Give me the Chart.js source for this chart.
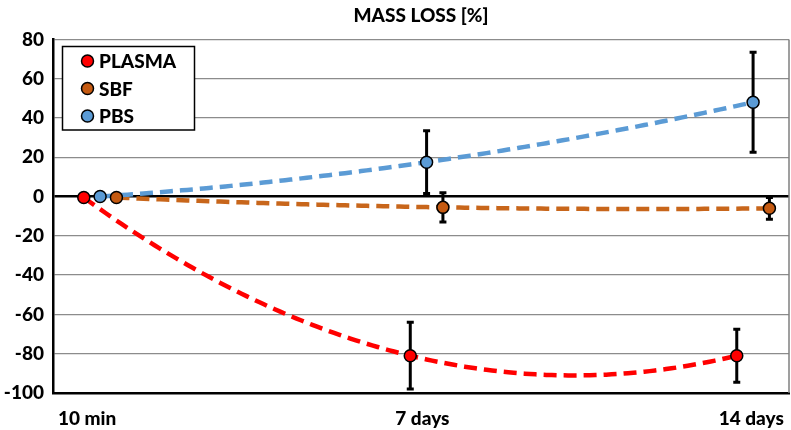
<!DOCTYPE html>
<html>
<head>
<meta charset="utf-8">
<title>Mass loss</title>
<script src="https://cdn.jsdelivr.net/npm/chart.js@4.4.0/dist/chart.umd.min.js"></script>
<style>
  html, body { margin: 0; padding: 0; background: #fff; }
  #wrap { width: 791px; height: 430px; }
</style>
</head>
<body>
<div id="wrap"><canvas id="massLossChart"></canvas></div>
<script>
// sampling times in days, each medium nudged sideways so markers don't overlap
const plasmaDays = [0, 7, 14];
const sbfDays = [0.7, 7.7, 14.7];
const pbsDays = [0.35, 7.35, 14.35];

// mass loss [%]
const plasmaLoss = [-0.5, -81, -81];
const sbfLoss = [-0.5, -5.5, -6];
const pbsLoss = [0, 17.5, 48];

// standard deviations
const plasmaErr = [0, 17, 13.5];
const sbfErr = [0, 7.5, 5.5];
const pbsErr = [0, 16, 25.5];

// x axis labels
const timeTicks = [0.07, 7.26, 14.31];
const timeLabels = ['10 min', '7 days', '14 days'];

const yTicks = [80, 60, 40, 20, 0, -20, -40, -60, -80, -100];

const FONT = 'Lato, "Open Sans", sans-serif';
Chart.defaults.font.family = FONT;
Chart.defaults.font.weight = '900';
Chart.defaults.color = '#000';

function toPoints(days, loss, err) {
    return days.map((d, i) => ({ x: d, y: loss[i], err: err[i] }));
}

// least squares fit y = a*x^2 + b*x + c (same as a 2nd order trendline)
function quadFit(xs, ys) {
    let s = [0, 0, 0, 0, 0], t = [0, 0, 0];
    xs.forEach((x, i) => {
        for (let k = 0; k < 5; k++) s[k] += Math.pow(x, k);
        for (let k = 0; k < 3; k++) t[k] += ys[i] * Math.pow(x, k);
    });
    const m = [[s[4], s[3], s[2]], [s[3], s[2], s[1]], [s[2], s[1], s[0]]];
    const det = mm => mm[0][0] * (mm[1][1] * mm[2][2] - mm[1][2] * mm[2][1])
        - mm[0][1] * (mm[1][0] * mm[2][2] - mm[1][2] * mm[2][0])
        + mm[0][2] * (mm[1][0] * mm[2][1] - mm[1][1] * mm[2][0]);
    const rhs = [t[2], t[1], t[0]];
    const d = det(m);
    return [0, 1, 2].map(col => det(m.map((row, r) => row.map((v, c) => c === col ? rhs[r] : v))) / d);
}

// trendlines, error bars and the plot frame go under the markers
const trendPlugin = {
    id: 'trendPlugin',
    beforeDatasetsDraw(chart) {
        const { ctx, chartArea: area, scales: { x, y } } = chart;
        ctx.save();

        // right edge of the frame
        ctx.strokeStyle = '#7f7f7f';
        ctx.lineWidth = 1.5;
        ctx.beginPath();
        ctx.moveTo(area.right, area.top);
        ctx.lineTo(area.right, area.bottom);
        ctx.stroke();

        chart.data.datasets.forEach(ds => {
            const xs = ds.data.map(p => p.x);
            const ys = ds.data.map(p => p.y);
            const [a, b, c] = quadFit(xs, ys);
            const x0 = xs[0], x1 = xs[xs.length - 1];
            ctx.beginPath();
            for (let i = 0; i <= 120; i++) {
                const xv = x0 + (x1 - x0) * i / 120;
                const px = x.getPixelForValue(xv);
                const py = y.getPixelForValue(a * xv * xv + b * xv + c);
                if (i === 0) ctx.moveTo(px, py); else ctx.lineTo(px, py);
            }
            ctx.setLineDash([13, 7]);
            ctx.lineWidth = 4.5;
            ctx.strokeStyle = ds.trendColor;
            ctx.stroke();
        });

        ctx.setLineDash([]);
        ctx.strokeStyle = '#000';
        chart.data.datasets.forEach(ds => {
            ds.data.forEach(p => {
                if (!p.err) return;
                const px = x.getPixelForValue(p.x);
                const top = y.getPixelForValue(p.y + p.err);
                const bot = y.getPixelForValue(p.y - p.err);
                ctx.lineWidth = 3;
                ctx.beginPath();
                ctx.moveTo(px, top);
                ctx.lineTo(px, bot);
                ctx.moveTo(px - 3.5, top);
                ctx.lineTo(px + 3.5, top);
                ctx.moveTo(px - 3.5, bot);
                ctx.lineTo(px + 3.5, bot);
                ctx.stroke();
            });
        });
        ctx.restore();
    }
};

// boxed legend in the top left corner of the plot
const boxLegend = {
    id: 'boxLegend',
    afterDraw(chart) {
        const { ctx } = chart;
        ctx.save();
        ctx.fillStyle = '#fff';
        ctx.fillRect(62.5, 46.5, 132, 83.5);
        ctx.strokeStyle = '#000';
        ctx.lineWidth = 1.5;
        ctx.strokeRect(62.5, 46.5, 132, 83.5);
        ctx.font = '900 19px ' + FONT;
        ctx.textBaseline = 'middle';
        chart.data.datasets.forEach((ds, i) => {
            const cy = 61 + i * 27.5;
            ctx.beginPath();
            ctx.arc(87.5, cy, 6, 0, Math.PI * 2);
            ctx.fillStyle = ds.backgroundColor;
            ctx.fill();
            ctx.lineWidth = 1.5;
            ctx.strokeStyle = '#000';
            ctx.stroke();
            ctx.fillStyle = '#000';
            ctx.fillText(ds.label, 99, cy + 1);
        });
        ctx.restore();
    }
};

const ctx = document.getElementById('massLossChart').getContext('2d');
new Chart(ctx, {
    type: 'scatter',
    data: {
        datasets: [
            {
                label: 'PLASMA',
                data: toPoints(plasmaDays, plasmaLoss, plasmaErr),
                backgroundColor: '#ff0000',
                trendColor: '#ff0000'
            },
            {
                label: 'SBF',
                data: toPoints(sbfDays, sbfLoss, sbfErr),
                backgroundColor: '#c55a11',
                trendColor: '#c8661b'
            },
            {
                label: 'PBS',
                data: toPoints(pbsDays, pbsLoss, pbsErr),
                backgroundColor: '#5b9bd5',
                trendColor: '#5b9bd5'
            }
        ].map(ds => Object.assign(ds, {
            borderColor: '#000',
            borderWidth: 1.5,
            pointRadius: 6,
            pointHoverRadius: 6,
            showLine: false
        }))
    },
    options: {
        responsive: true,
        maintainAspectRatio: false,
        animation: false,
        layout: {
            autoPadding: false,
            padding: { left: 0, right: 2, top: 0, bottom: 0 }
        },
        scales: {
            x: {
                type: 'linear',
                min: -0.66,
                max: 15.12,
                afterBuildTicks: scale => {
                    scale.ticks = timeTicks.map(v => ({ value: v }));
                },
                afterFit: scale => {
                    scale.height = 37;
                    scale.paddingLeft = 0;
                    scale.paddingRight = 0;
                },
                ticks: {
                    autoSkip: false,
                    maxRotation: 0,
                    padding: 14,
                    font: { size: 19, weight: '900' },
                    callback: (v, i) => timeLabels[i]
                },
                grid: { display: false, drawTicks: false },
                border: { display: true, color: '#000', width: 2.5 }
            },
            y: {
                min: -100,
                max: 80,
                afterBuildTicks: scale => {
                    scale.ticks = yTicks.map(v => ({ value: v }));
                },
                afterFit: scale => {
                    scale.width = 53;
                    scale.paddingTop = 0;
                    scale.paddingBottom = 0;
                },
                ticks: {
                    padding: 9,
                    font: { size: 19, weight: '900' }
                },
                grid: {
                    drawTicks: false,
                    color: c => c.tick && c.tick.value === 0 ? '#000' : '#8c8c8c',
                    lineWidth: c => c.tick && c.tick.value === 0 ? 2.5 : 1.3
                },
                border: { display: true, color: '#000', width: 2.5 }
            }
        },
        plugins: {
            legend: { display: false },
            tooltip: { enabled: false },
            title: {
                display: true,
                fullSize: false,
                text: 'MASS LOSS [%]',
                color: '#000',
                font: { size: 19, weight: '900' },
                padding: { top: 4, bottom: 12.6 }
            }
        }
    },
    plugins: [trendPlugin, boxLegend]
});
</script>
</body>
</html>
